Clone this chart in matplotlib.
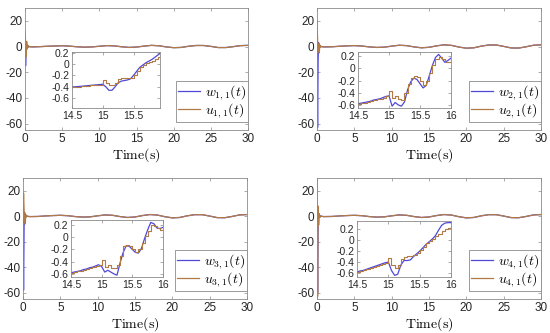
import numpy as np
import matplotlib.pyplot as plt

plt.rcParams['mathtext.fontset'] = 'cm'
plt.rcParams['font.family'] = ['Liberation Sans', 'DejaVu Sans']
plt.rcParams['axes.unicode_minus'] = False

BLUE = '#5048d8'
BROWN = '#b27a45'

# ---- main trajectories: dense head near t=0, then 1 s samples ----
t_head = [0, 0.08, 0.15, 0.22, 0.3, 0.38, 0.45, 0.55, 0.7, 1.0]
t_tail = list(range(2, 31))

w_head = [
    [0, -15, -4, 2, -1, 0.5, -0.3, 0, -0.2, -0.3],
    [0, -63, -10, 3, -2, 1, -0.5, 0, -0.2, -0.3],
    [0, -58, -8, 3, -2, 1, -0.5, 0, -0.2, -0.3],
    [0, -60, -5, 2, -1, 0.5, -0.3, 0, -0.2, -0.3],
]
u_head = [
    [12, 3, -8, 4, -2, 1, -0.5, 0.2, -0.2, -0.3],
    [20, 5, -4, 2, -5, 1, -0.5, 0.2, -0.2, -0.3],
    [0, 18, 5, -3, -6, 1, -0.5, 0.2, -0.2, -0.3],
    [30, -63, 8, -7, 2, -1, -0.5, 0.2, -0.2, -0.3],
]
tails = [
    [-0.1, 0.2, 0.4, 0.6, 0.3, -0.2, -0.5, -0.3, 0.2, 0.7, 0.5, -0.2, -0.7, -0.4, 0.3,
     0.9, 0.6, -0.3, -0.9, -0.7, 0.2, 0.8, 0.8, 0.1, -0.8, -0.8, -0.1, 0.7, 0.9],
    [-0.2, 0.2, 0.5, 0.7, 0.4, -0.3, -0.7, -0.5, 0.3, 1.0, 0.7, -0.3, -1.0, -0.6, 0.5,
     1.3, 0.9, -0.4, -1.3, -1.0, 0.3, 1.2, 1.2, 0.1, -1.1, -1.2, -0.2, 1.0, 1.3],
    [-0.2, 0.2, 0.5, 0.7, 0.4, -0.3, -0.7, -0.5, 0.3, 1.0, 0.7, -0.3, -1.0, -0.6, 0.5,
     1.3, 0.9, -0.4, -1.3, -1.0, 0.3, 1.2, 1.2, 0.1, -1.1, -1.2, -0.2, 1.0, 1.3],
    [-0.2, 0.2, 0.5, 0.7, 0.4, -0.3, -0.7, -0.5, 0.3, 1.0, 0.7, -0.3, -1.0, -0.6, 0.5,
     1.3, 0.9, -0.4, -1.3, -1.0, 0.3, 1.2, 1.2, 0.1, -1.1, -1.2, -0.2, 1.0, 1.3],
]

# ---- zoomed window 14.5 - 16 s ----
t_zoom = [14.5, 14.55, 14.6, 14.65, 14.7, 14.75, 14.8, 14.85, 14.9, 14.95, 15.0,
          15.05, 15.1, 15.15, 15.2, 15.25, 15.3, 15.35, 15.4, 15.45, 15.5,
          15.55, 15.6, 15.65, 15.7, 15.75, 15.8, 15.85, 15.9, 15.95, 16.0]

w_zoom = [
    [-0.40, -0.40, -0.395, -0.39, -0.385, -0.38, -0.375, -0.37, -0.365, -0.36, -0.355,
     -0.40, -0.46, -0.46, -0.40, -0.33, -0.30, -0.29, -0.28, -0.26, -0.20,
     -0.13, -0.06, -0.02, 0.02, 0.05, 0.08, 0.12, 0.16, 0.20, 0.24],
    [-0.58, -0.57, -0.56, -0.55, -0.54, -0.52, -0.51, -0.50, -0.48, -0.46, -0.45,
     -0.62, -0.56, -0.60, -0.62, -0.55, -0.35, -0.22, -0.16, -0.18, -0.25,
     -0.32, -0.28, -0.12, 0.05, 0.18, 0.23, 0.17, 0.10, 0.13, 0.17],
    [-0.58, -0.57, -0.56, -0.55, -0.53, -0.52, -0.50, -0.49, -0.47, -0.45, -0.48,
     -0.57, -0.54, -0.57, -0.60, -0.62, -0.42, -0.25, -0.14, -0.15, -0.20,
     -0.25, -0.26, -0.18, -0.02, 0.12, 0.24, 0.22, 0.15, 0.14, 0.16],
    [-0.58, -0.56, -0.55, -0.53, -0.51, -0.49, -0.47, -0.45, -0.43, -0.41, -0.40,
     -0.55, -0.64, -0.62, -0.45, -0.37, -0.37, -0.36, -0.30, -0.25, -0.20,
     -0.14, -0.08, -0.03, 0.02, 0.08, 0.18, 0.27, 0.31, 0.32, 0.32],
]
u_zoom = [
    [-0.40, -0.40, -0.395, -0.39, -0.385, -0.38, -0.375, -0.37, -0.365, -0.36, -0.28,
     -0.33, -0.37, -0.37, -0.33, -0.27, -0.25, -0.24, -0.25, -0.24, -0.20,
     -0.13, -0.05, -0.01, 0.02, 0.04, 0.06, 0.09, 0.13, 0.16, 0.18],
    [-0.58, -0.57, -0.56, -0.55, -0.54, -0.52, -0.51, -0.50, -0.48, -0.46, -0.37,
     -0.48, -0.45, -0.50, -0.52, -0.40, -0.25, -0.15, -0.12, -0.14, -0.20,
     -0.27, -0.20, -0.08, 0.05, 0.15, 0.18, 0.15, 0.10, 0.10, 0.14],
    [-0.58, -0.57, -0.56, -0.55, -0.53, -0.52, -0.50, -0.49, -0.47, -0.45, -0.38,
     -0.48, -0.45, -0.50, -0.50, -0.45, -0.30, -0.15, -0.13, -0.15, -0.20,
     -0.25, -0.20, -0.10, 0.02, 0.10, 0.20, 0.18, 0.15, 0.12, 0.14],
    [-0.58, -0.56, -0.55, -0.53, -0.51, -0.49, -0.47, -0.45, -0.43, -0.41, -0.32,
     -0.45, -0.50, -0.45, -0.35, -0.30, -0.28, -0.28, -0.27, -0.24, -0.18,
     -0.12, -0.06, -0.02, 0.03, 0.08, 0.12, 0.17, 0.20, 0.23, 0.25],
]

labels_w = [r'$w_{1,1}(t)$', r'$w_{2,1}(t)$', r'$w_{3,1}(t)$', r'$w_{4,1}(t)$']
labels_u = [r'$u_{1,1}(t)$', r'$u_{2,1}(t)$', r'$u_{3,1}(t)$', r'$u_{4,1}(t)$']

# layout (figure fractions)
main_rects = [
    [0.0455, 0.6096, 0.4055, 0.3664],
    [0.5764, 0.6096, 0.4073, 0.3664],
    [0.0418, 0.1021, 0.4073, 0.3634],
    [0.5764, 0.1021, 0.4073, 0.3634],
]
inset_rects = [
    [0.1309, 0.6757, 0.1600, 0.1682],
    [0.6509, 0.6757, 0.1691, 0.1682],
    [0.1291, 0.1682, 0.1673, 0.1712],
    [0.6491, 0.1682, 0.1709, 0.1682],
]
inset_ylims = [(-0.77, 0.21), (-0.65, 0.27), (-0.65, 0.28), (-0.67, 0.35)]
inset_xlims = [(14.5, 15.93), (14.5, 16), (14.5, 16), (14.5, 16)]


def style(ax, fs):
    for s in ax.spines.values():
        s.set_color('#8a8a8a')
        s.set_linewidth(0.6)
    ax.tick_params(direction='in', length=2.5, width=0.5, colors='#8a8a8a',
                   labelcolor='#262626', labelsize=fs, pad=2,
                   top=True, right=True)


fig = plt.figure(figsize=(5.5, 3.33), dpi=100)

for i in range(4):
    ax = fig.add_axes(main_rects[i])
    t_main = t_head + t_tail
    ax.plot(t_main, w_head[i] + tails[i], color=BLUE, lw=0.9, label=labels_w[i])
    ax.plot(t_main, u_head[i] + tails[i], color=BROWN, lw=0.9, label=labels_u[i])
    ax.set_xlim(0, 30)
    ax.set_ylim(-65, 30)
    ax.set_xticks([0, 5, 10, 15, 20, 25, 30])
    ax.set_yticks([-60, -40, -20, 0, 20])
    ax.set_xlabel(r'$\mathrm{Time(s)}$', fontsize=10, labelpad=1)
    style(ax, 8.5)
    leg = ax.legend(loc='lower right', bbox_to_anchor=(1.0, 0.066), borderaxespad=0,
                    fontsize=10, fancybox=False, framealpha=1, handlelength=1.6,
                    handletextpad=0.3, borderpad=0.15, labelspacing=-0.08)
    leg.get_frame().set_edgecolor('#8a8a8a')
    leg.get_frame().set_linewidth(0.6)

    ins = fig.add_axes(inset_rects[i])
    ins.plot(t_zoom, w_zoom[i], color=BLUE, lw=0.9)
    ins.plot(t_zoom, u_zoom[i], color=BROWN, lw=0.8, drawstyle='steps-post')
    ins.set_xlim(*inset_xlims[i])
    ins.set_ylim(*inset_ylims[i])
    ins.set_xticks([14.5, 15, 15.5, 16] if i else [14.5, 15, 15.5])
    ins.set_xticklabels(['14.5', '15', '15.5', '16'] if i else ['14.5', '15', '15.5'])
    ins.set_yticks([-0.6, -0.4, -0.2, 0, 0.2])
    ins.set_yticklabels(['-0.6', '-0.4', '-0.2', '0', '0.2'])
    style(ins, 7.5)

fig.savefig('out.png', dpi=100)
